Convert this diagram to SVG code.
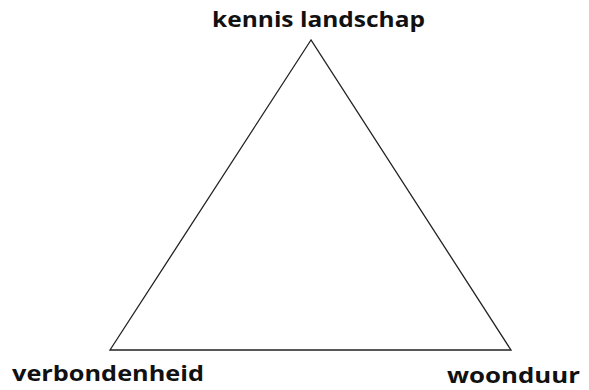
<svg xmlns="http://www.w3.org/2000/svg" width="589" height="390" viewBox="0 0 589 390">
<style>
.lbl{font-family:"Open Sans","DejaVu Sans",sans-serif;font-weight:bold;font-size:21px;fill:#111}
.edge{stroke:#222;stroke-width:1.3;fill:none}
</style>
<rect width="589" height="390" fill="#fff"/>
<g id="connectors">
<path class="edge" d="M311,40 L110,350 L511,350 Z"/>
</g>
<g id="node-kennis"><text class="lbl" x="212" y="27" textLength="213" lengthAdjust="spacingAndGlyphs">kennis landschap</text></g>
<g id="node-verbondenheid"><text class="lbl" x="12" y="381" textLength="192" lengthAdjust="spacingAndGlyphs">verbondenheid</text></g>
<g id="node-woonduur"><text class="lbl" x="447" y="383" textLength="133" lengthAdjust="spacingAndGlyphs">woonduur</text></g>
</svg>
